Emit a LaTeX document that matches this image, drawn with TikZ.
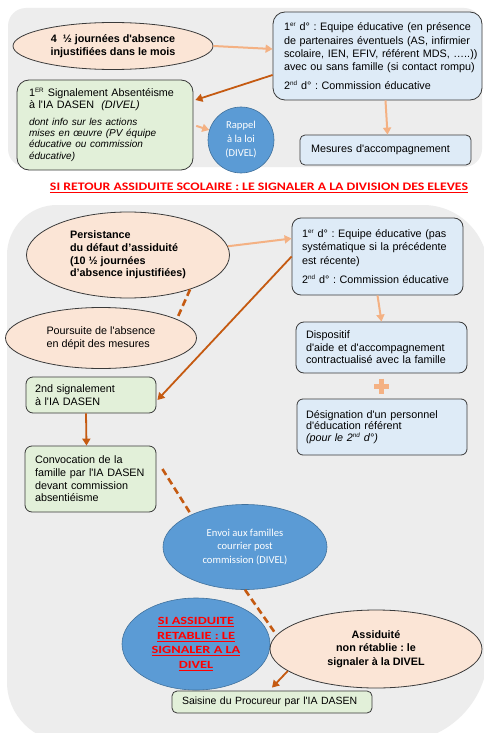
\documentclass[tikz,border=0pt]{standalone}
\usepackage{fontspec}
\usepackage{graphicx}
\setmainfont{Liberation Sans}[Ligatures=TeXOff]
\newfontfamily\calibfont{Carlito}
\usetikzlibrary{calc, arrows.meta, shapes.geometric}

\definecolor{panelgray}{HTML}{EDEDED}
\definecolor{peach}{HTML}{FBE5D6}
\definecolor{palegreen}{HTML}{E2F0D9}
\definecolor{paleblue}{HTML}{DEEBF7}
\definecolor{midblue}{HTML}{5B9BD5}
\definecolor{blueline}{HTML}{41719C}
\definecolor{lightorange}{HTML}{F4B183}
\definecolor{darkorange}{HTML}{C55A11}
\definecolor{boxline}{HTML}{3A3A3A}
\definecolor{alertred}{HTML}{FF0000}

\newcommand\boxfont{\fontsize{10.8}{13.3}\selectfont}
\newcommand\ovalfont{\calibfont\fontsize{10.6}{14}\selectfont}
\newcommand\supr[1]{\textsuperscript{\fontsize{6.3}{6.3}\selectfont #1}}
\newcommand\wide[1]{\scalebox{1.3}[1]{\underline{#1}}}
\frenchspacing
\hyphenpenalty=10000
\exhyphenpenalty=10000

\tikzset{
  greenbox/.style={draw=boxline, fill=palegreen, line width=0.8pt, rounded corners=7pt,
    align=left, inner xsep=11pt, inner ysep=0pt, font=\boxfont},
  bluebox/.style={draw=boxline, fill=paleblue, line width=0.8pt, rounded corners=9pt,
    align=left, inner xsep=11pt, inner ysep=0pt, font=\boxfont},
  peachell/.style={ellipse, draw=boxline, fill=peach, line width=0.8pt, inner sep=0pt,
    align=center, font=\boxfont},
  blueshape/.style={draw=blueline, fill=midblue, line width=0.6pt, inner sep=0pt,
    align=center, text=white, font=\ovalfont},
  lightarrow/.style={draw=lightorange, line width=2pt, -{Triangle[length=7pt,width=8pt]}},
  darkarrow/.style={draw=darkorange, line width=1.8pt, -{Triangle[length=7pt,width=8pt]}},
  darkdash/.style={draw=darkorange, line width=2.6pt, dash pattern=on 7pt off 4pt},
}

\begin{document}
\begin{tikzpicture}[x=1pt, y=-1pt]
    \fill[white] (0,0) rectangle (484,733);
    \useasboundingbox (0,0) rectangle (484,733);

    \begin{scope}
        \clip (0,0) rectangle (484,733);
        \fill[panelgray, rounded corners=18pt] (8,8) rectangle (482,167);
        \fill[panelgray] (7,255) arc[start angle=180, end angle=270, radius=50]
            -- (423,205) arc[start angle=270, end angle=360, radius=65]
            -- (488,652) arc[start angle=0, end angle=90, radius=90]
            -- (67,742) arc[start angle=90, end angle=180, radius=60] -- cycle;
    \end{scope}

    \node[peachell, minimum width=200pt, minimum height=47pt, font=\boxfont\bfseries] (abs1) at (113,46)
        {4~ ½ journées d'absence\\ injustifiées dans le mois};
    \node[bluebox, rounded corners=12pt, minimum width=209pt, minimum height=88pt, text width=187pt] (eq1) at (377.5,56)
        {\mbox{1\supr{er} d° : Equipe éducative (en présence}\\
         \mbox{de partenaires éventuels (AS, infirmier}\\
         \mbox{scolaire, IEN, EFIV, référent MDS, …..))}\\
         \mbox{avec ou sans famille (si contact rompu)}\\[5pt]
         \mbox{2\supr{nd} d° : Commission éducative}};
    \node[greenbox, rounded corners=12pt, minimum width=176pt, minimum height=90pt, text width=152pt,
        inner xsep=12pt, font=\fontsize{10.8}{11.8}\selectfont] (sig1) at (105,125)
        {1\supr{ER} Signalement Absentéisme\\
         à l'IA DASEN \ \textit{(DIVEL)}\\[6pt]
         {\itshape\fontsize{10}{11}\selectfont dont info sur les actions\\
         mises en œuvre (PV équipe\\
         éducative ou commission\\
         éducative)}};
    \node[blueshape, circle, minimum size=66pt] (rappel) at (241,140) {Rappel\\ à la loi\\ (DIVEL)};
    \node[bluebox, rounded corners=5pt, minimum width=171pt, minimum height=30pt, text width=149pt] (mes) at (385.5,150)
        {Mesures d'accompagnement};

    \node[font=\calibfont\bfseries\fontsize{11.5}{14}\selectfont, text=alertred] (retour) at (259,188)
        {\resizebox{418pt}{\height}{\underline{SI RETOUR ASSIDUITE SCOLAIRE : LE SIGNALER A LA DIVISION DES ELEVES}}};

    \node[peachell, minimum width=203pt, minimum height=86pt, align=left,
        font=\fontsize{10.8}{12.7}\selectfont\bfseries] (pers) at (128,255)
        {Persistance\\ du défaut d’assiduité\\ (10 ½ journées\\ d’absence injustifiées)};
    \node[peachell, minimum width=191pt, minimum height=61pt, align=left] (pours) at (101,338)
        {Poursuite de l'absence\\ en dépit des mesures};
    \node[bluebox, minimum width=171pt, minimum height=77pt, text width=151pt, inner xsep=10pt] (eq2) at (377.5,256.5)
        {1\supr{er} d° : Equipe éducative (pas\\
         systématique si la précédente\\
         est récente)\\[6pt]
         2\supr{nd} d° : Commission éducative};
    \node[greenbox, minimum width=130pt, minimum height=36pt, text width=112pt, inner xsep=9pt] (sig2) at (91,395)
        {2nd signalement\\ à l'IA DASEN};
    \node[greenbox, minimum width=131pt, minimum height=66pt, text width=111pt, inner xsep=10pt,
        font=\fontsize{10.8}{12.6}\selectfont] (conv) at (90.5,479)
        {Convocation de la\\ famille par l'IA DASEN\\ devant commission\\ absentiéisme};
    \node[bluebox, rounded corners=8pt, minimum width=171pt, minimum height=51pt, text width=151pt, inner xsep=10pt,
        font=\fontsize{10.8}{12.5}\selectfont] (disp) at (381.5,347.5)
        {Dispositif\\ d'aide et d'accompagnement\\ contractualisé avec la famille};
    \node[bluebox, rounded corners=6pt, minimum width=170pt, minimum height=56pt, text width=152pt, inner xsep=9pt,
        font=\fontsize{10.8}{11.7}\selectfont] (desig) at (382,427)
        {Désignation d'un personnel\\ d'éducation référent\\ \textit{(pour le 2\supr{nd} d°)}\\[3pt]};
    \node[blueshape, ellipse, minimum width=164pt, minimum height=85pt, font=\calibfont\fontsize{10.6}{13.5}\selectfont] (envoi) at (245,547)
        {Envoi aux familles\\ courrier post\\ commission (DIVEL)};
    \node[blueshape, ellipse, minimum width=148pt, minimum height=92pt, text=alertred,
        font=\calibfont\bfseries\fontsize{11}{14.6}\selectfont] (retab) at (196,644)
        {\wide{SI ASSIDUITE}\\ \wide{RETABLIE : LE}\\ \wide{SIGNALER A LA}\\ \wide{DIVEL}};
    \node[peachell, minimum width=212pt, minimum height=78pt, font=\fontsize{10.8}{13.5}\selectfont\bfseries] (nonret) at (376,649)
        {Assiduité\\ non rétablie : le\\ signaler à la DIVEL};
    \node[greenbox, rounded corners=5pt, minimum width=200pt, minimum height=22pt, text width=180pt, inner xsep=10pt,
        font=\fontsize{10.5}{12}\selectfont] (saisine) at (272,702)
        {Saisine du Procureur par l'IA DASEN};

    \draw[lightarrow] (abs1.east) -- ($(eq1.west)+(0,-7)$);
    \draw[darkarrow] ($(eq1.west)+(0,19)$) -- ($(sig1.east)+(2,-25)$);
    \draw[lightarrow, shorten <=3pt] (sig1.east) -- (rappel);
    \draw[lightarrow] ($(eq1.south)+(8,0)$) -- ($(mes.north)+(2,0)$);

    \draw[lightarrow] (pers.5) -- ($(eq2.west)+(0,-18)$);
    \draw[darkarrow] (eq2.west) -- ($(sig2.east)+(1,5)$);
    \draw[darkdash] (pers.-29) -- (pours.14);
    \draw[darkarrow] ($(sig2.south)+(-5,0)$) -- ($(conv.north)+(-4,0)$);
    \draw[lightarrow] (eq2.south) -- (disp.north);
    \draw[darkdash] ($(conv.east)+(6,-10)$) -- (envoi.149);
    \draw[darkdash] (envoi.south) -- (nonret.172);
    \draw[darkarrow] (nonret.194) -- ($(saisine.north)+(0,-3)$);

    \coordinate (plus) at ($(disp.south)!0.5!(desig.north)$);
    \draw[lightorange, line width=5pt] ($(plus)+(-7.5,0)$) -- ($(plus)+(7.5,0)$)
        ($(plus)+(0,-7.5)$) -- ($(plus)+(0,7.5)$);
\end{tikzpicture}
\end{document}
